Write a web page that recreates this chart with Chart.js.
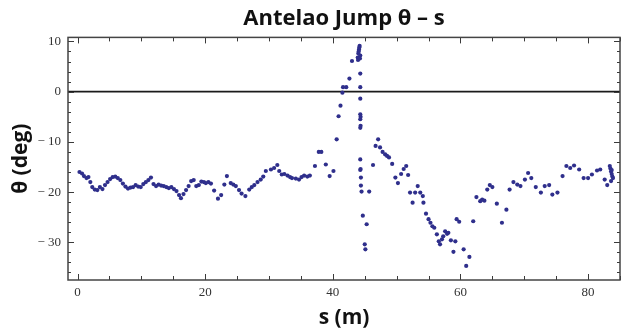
<!DOCTYPE html>
<html>
<head>
<meta charset="utf-8">
<script src="https://cdn.jsdelivr.net/npm/chart.js@4.4.1/dist/chart.umd.min.js"></script>
<style>
  html, body { margin: 0; padding: 0; background: #fff; }
  #wrap { width: 624px; height: 332px; }
</style>
</head>
<body>
<div id="wrap"><canvas id="thetaChart"></canvas></div>
<script>
// distance along the jump (m)
const sValues = [
  0.3, 0.7, 1.0, 1.4, 1.7, 2.0, 2.3, 2.7, 3.1, 3.5, 3.9, 4.3, 4.7, 5.1, 5.5, 5.9, 6.3, 6.7, 7.1, 7.5,
  7.9, 8.3, 8.7, 9.1, 9.5, 9.9, 10.3, 10.7, 11.1, 11.5, 11.9, 12.3, 12.7, 13.1, 13.5, 13.9, 14.3, 14.7, 15.1, 15.5,
  15.9, 16.2, 16.6, 17.0, 17.4, 17.8, 18.2, 18.6, 19.0, 19.4, 19.8,
  20.1, 20.5, 20.9, 21.4, 22.0, 22.5, 23.0, 23.4, 24.0, 24.4, 24.8, 25.3, 25.7, 26.3, 26.9, 27.3, 27.7, 28.2, 28.7, 29.1,
  29.5, 30.3, 30.8, 31.3, 31.6, 32.0, 32.4, 32.9, 33.3, 33.6, 34.2, 34.7, 35.1, 35.5, 36.0, 36.4, 37.2, 37.8, 38.2, 38.9,
  39.5, 40.1, 40.6, 40.9, 41.2, 41.5, 41.6, 42.1, 42.6, 43.0,
  43.9, 44.0, 44.1, 44.2, 44.3, 43.95, 44.05, 44.15, 44.25,
  44.3, 44.3, 44.3, 44.3, 44.35, 44.3, 44.35, 44.3, 44.3, 44.35, 44.3, 44.4, 44.4, 44.5,
  44.7, 45.3, 45.0, 45.1, 45.7, 46.3, 46.7, 47.1, 47.4, 47.8, 48.2, 48.5, 48.8, 49.3, 49.8, 50.2, 50.7, 51.1, 51.5, 51.8,
  52.1, 52.5, 52.9, 53.3, 53.7, 54.1, 54.2, 54.6, 55.0, 55.3, 55.6, 55.9, 56.3, 56.6, 56.8, 57.1, 57.3, 57.6, 57.9, 58.1,
  58.5, 58.9, 59.2, 59.4, 59.8, 60.5, 60.9, 61.4, 62.0, 62.5, 63.1, 63.4, 63.75, 64.2, 64.6, 65.0, 65.7, 66.5, 67.2, 67.7,
  68.3, 68.9, 69.4, 70.1, 70.6, 71.1, 71.8, 72.6, 73.2, 73.9, 74.4, 75.2, 76.0, 76.6, 77.2, 77.8, 78.6, 79.3, 80.0, 80.6,
  81.4, 81.9, 82.6, 83.0, 83.4, 83.5, 83.6, 83.7, 83.8, 83.9, 83.6, 83.7
];
// pitch angle theta (deg)
const thetaValues = [
  -16.0, -16.3, -16.8, -17.2, -17.0, -18.0, -19.0, -19.5, -19.6, -19.0, -19.4, -18.6, -18.0, -17.4, -17.0, -16.9, -17.2, -17.6, -18.3, -18.9,
  -19.3, -19.1, -19.0, -18.6, -18.9, -19.0, -18.4, -18.0, -17.6, -17.1, -18.4, -18.8, -18.5, -18.7, -18.8, -19.0, -19.2, -19.0, -19.4, -19.8,
  -20.6, -21.2, -20.4, -19.6, -18.8, -17.8, -17.6, -18.8, -18.6, -17.9, -18.0,
  -18.2, -18.0, -18.3, -19.7, -21.3, -20.6, -18.5, -16.8, -18.2, -18.5, -18.8, -19.6, -20.3, -20.8, -19.5, -19.0, -18.6, -18.0, -17.5, -16.9,
  -15.8, -15.5, -15.2, -14.6, -15.8, -16.5, -16.4, -16.7, -17.0, -17.2, -17.3, -17.5, -17.0, -16.7, -16.9, -16.7, -14.8, -12.0, -12.0, -14.5,
  -16.8, -15.8, -9.5, -4.9, -2.8, -0.2, 0.9, 0.9, 2.6, 6.1,
  6.8, 7.6, 8.4, 9.1, 7.2, 6.3, 8.0, 8.8, 6.6,
  3.6, 0.9, -1.4, -4.5, -5.0, -5.5, -6.8, -7.2, -13.5, -15.4, -15.6, -17.1, -18.7, -19.9,
  -24.7, -26.4, -30.4, -31.4, -19.9, -14.6, -10.8, -9.5, -11.1, -12.0, -12.5, -12.8, -13.1, -14.4, -17.1, -18.2, -16.4, -15.4, -14.8, -16.6,
  -20.1, -22.1, -20.1, -18.8, -20.1, -20.8, -22.1, -24.3, -25.4, -26.1, -26.8, -27.1, -28.4, -29.8, -30.4, -29.4, -28.8, -27.8, -28.3, -28.1,
  -29.6, -31.9, -29.8, -25.4, -25.9, -31.4, -34.7, -32.9, -25.8, -21.0, -21.8, -21.5, -21.7, -19.5, -18.6, -19.0, -22.3, -26.1, -23.5, -19.5,
  -18.0, -18.5, -18.8, -17.5, -16.2, -17.2, -19.0, -20.1, -18.8, -18.6, -20.5, -20.1, -16.8, -14.8, -15.2, -14.7, -15.5, -17.2, -17.2, -16.5,
  -15.7, -15.5, -17.5, -18.6, -14.8, -15.3, -15.9, -16.4, -16.9, -17.2, -17.8, -15.6
];

const xTicks = [0, 20, 40, 60, 80];
const yTicks = [10, 0, -10, -20, -30];

const points = sValues.map((s, i) => ({ x: s, y: thetaValues[i] }));

// inward Mathematica-style ticks and frame
const frameTicks = {
  id: "frameTicks",
  afterDraw(chart) {
    const { ctx, chartArea: a, scales } = chart;
    const xs = scales.x, ys = scales.y;
    ctx.save();
    ctx.strokeStyle = "#3a3a3a";
    ctx.lineWidth = 1;
    for (let v = 0; v <= 85; v += 5) {
      const px = Math.round(xs.getPixelForValue(v)) + 0.5;
      const len = v % 20 === 0 ? 6 : 4;
      ctx.beginPath();
      ctx.moveTo(px, a.bottom); ctx.lineTo(px, a.bottom - len);
      ctx.moveTo(px, a.top); ctx.lineTo(px, a.top + len);
      ctx.stroke();
    }
    for (let v = -36; v <= 10; v += 2) {
      const py = Math.round(ys.getPixelForValue(v)) + 0.5;
      const len = v % 10 === 0 ? 6 : 3;
      ctx.beginPath();
      ctx.moveTo(a.left, py); ctx.lineTo(a.left + len, py);
      ctx.moveTo(a.right, py); ctx.lineTo(a.right - len, py);
      ctx.stroke();
    }
    ctx.lineWidth = 1.5;
    ctx.strokeStyle = "#444";
    ctx.strokeRect(a.left, a.top, a.right - a.left, a.bottom - a.top);
    ctx.restore();
  }
};

const tickFont = { family: "'Liberation Serif', 'DejaVu Serif', serif", size: 13 };
const titleFont = { family: "'Open Sans', 'DejaVu Sans', sans-serif", size: 22, weight: "bold" };
const axisFont = { family: "'Open Sans', 'DejaVu Sans', sans-serif", size: 21, weight: "bold" };

new Chart(document.getElementById("thetaChart").getContext("2d"), {
  type: "scatter",
  data: {
    datasets: [
      {
        label: "zero",
        type: "line",
        data: [{ x: -1.5, y: 0 }, { x: 85, y: 0 }],
        borderColor: "#1a1a1a",
        borderWidth: 1.6,
        pointRadius: 0,
        order: 2
      },
      {
        label: "theta",
        data: points,
        pointRadius: 2.1,
        pointBorderWidth: 0,
        backgroundColor: "#2f2f8c",
        order: 1
      }
    ]
  },
  options: {
    responsive: true,
    maintainAspectRatio: false,
    animation: false,
    layout: { padding: { left: 0, right: 1, top: 0, bottom: 0 } },
    plugins: {
      legend: { display: false },
      tooltip: { enabled: false },
      title: {
        display: true,
        fullSize: false,
        text: "Antelao Jump \u03b8 \u2013 s",
        color: "#111",
        font: titleFont,
        padding: { top: 6, bottom: 5 }
      }
    },
    scales: {
      x: {
        type: "linear",
        min: -1.5,
        max: 85,
        grid: { display: false, drawTicks: false },
        border: { display: false },
        afterBuildTicks: (scale) => { scale.ticks = xTicks.map((v) => ({ value: v })); },
        afterFit: (scale) => { scale.height = 52; },
        ticks: { font: tickFont, color: "#333", padding: 5, maxRotation: 0 },
        title: { display: true, text: "s (m)", color: "#111", font: axisFont, padding: { top: 0, bottom: 1 } }
      },
      y: {
        type: "linear",
        min: -37.5,
        max: 10.8,
        grid: { display: false, drawTicks: false },
        border: { display: false },
        afterBuildTicks: (scale) => { scale.ticks = yTicks.map((v) => ({ value: v })); },
        afterFit: (scale) => { scale.width = 68; },
        ticks: {
          font: tickFont,
          color: "#333",
          padding: 7,
          callback: (v) => String(v).replace("-", "\u2212 ")
        },
        title: { display: true, text: "\u03b8 (deg)", color: "#111", font: axisFont, padding: { top: 8, bottom: 2 } }
      }
    }
  },
  plugins: [frameTicks]
});
</script>
</body>
</html>
